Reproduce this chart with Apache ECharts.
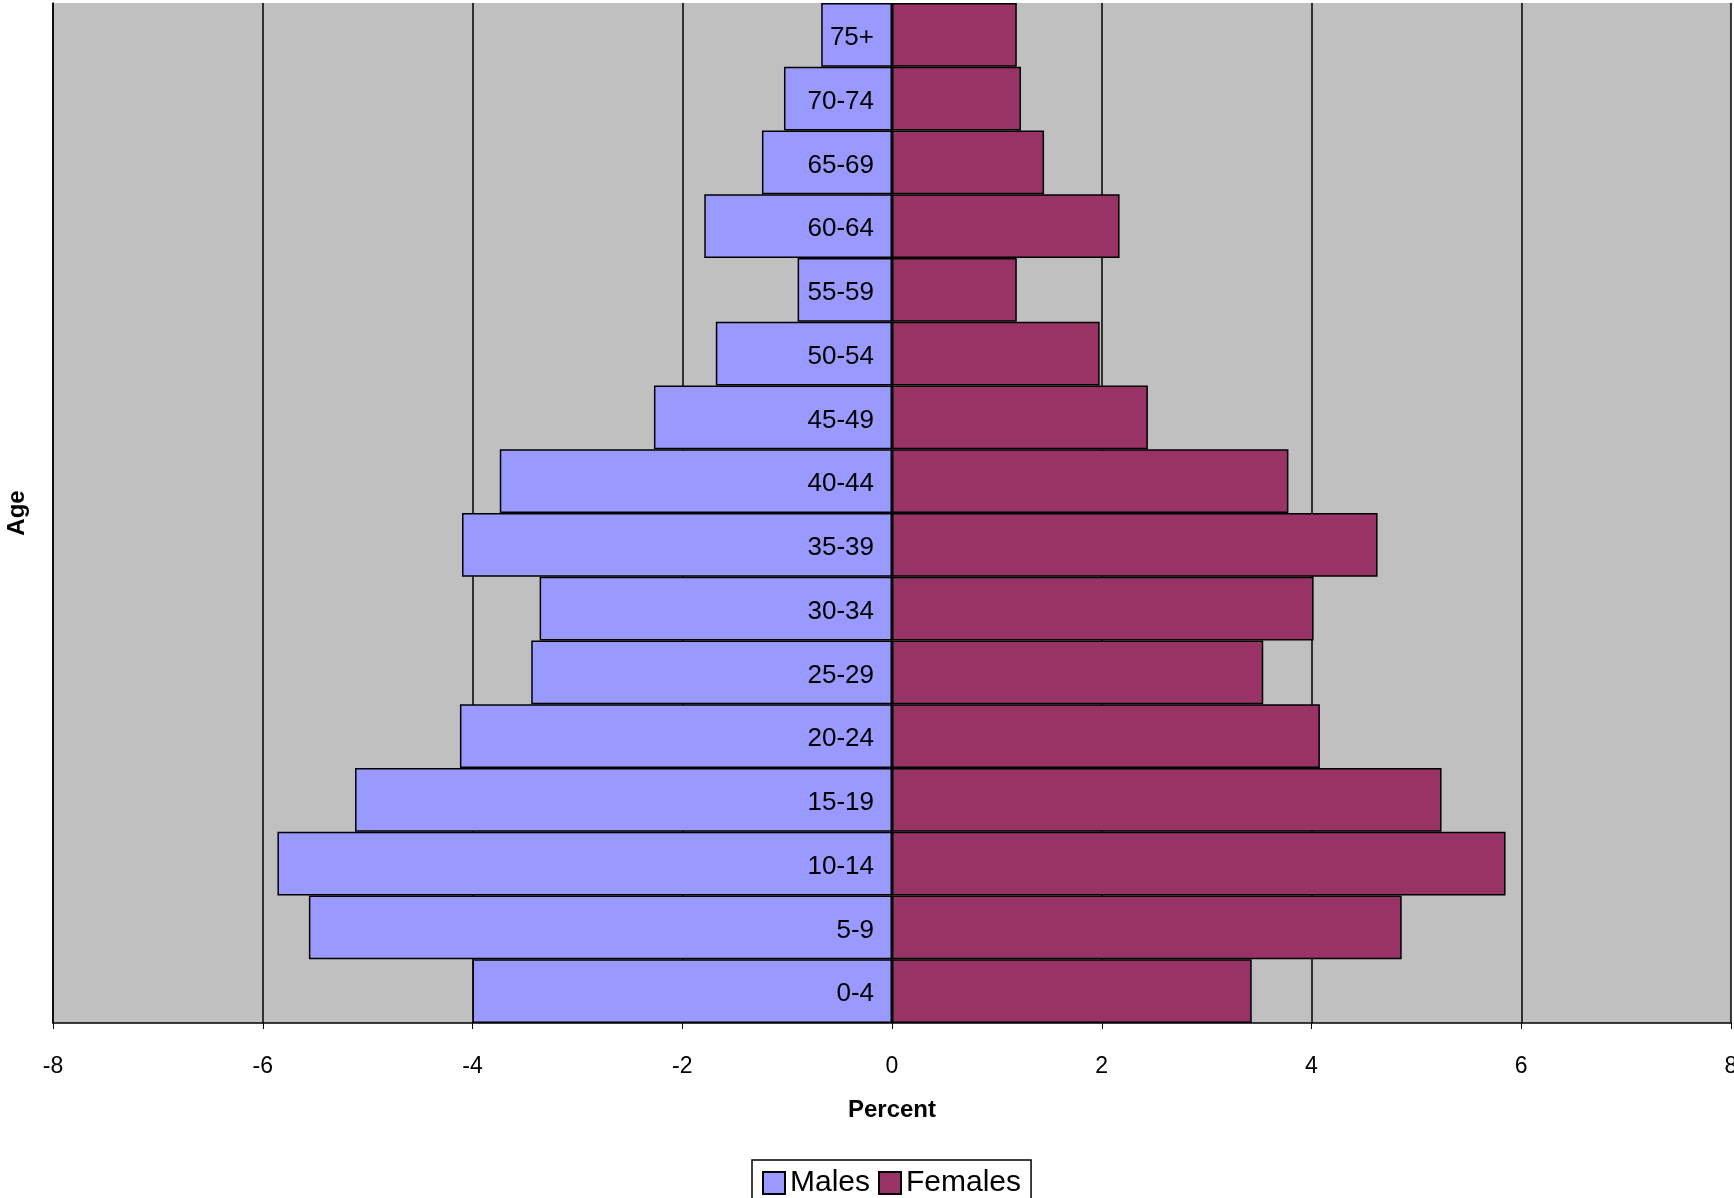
<!DOCTYPE html>
<html><head><meta charset="utf-8">
<script src="https://cdn.jsdelivr.net/npm/echarts@6/dist/echarts.min.js"></script>
<style>html,body{margin:0;padding:0;background:#fff;overflow:hidden}#c{width:1734px;height:1198px}</style>
</head><body><div id="c"></div>
<script>
const ages = ['0-4','5-9','10-14','15-19','20-24','25-29','30-34','35-39','40-44','45-49','50-54','55-59','60-64','65-69','70-74','75+'];
const males = [-4.0,-5.56,-5.86,-5.12,-4.12,-3.44,-3.36,-4.10,-3.74,-2.27,-1.68,-0.90,-1.79,-1.24,-1.03,-0.675];
const females = [3.43,4.86,5.85,5.24,4.08,3.54,4.02,4.63,3.78,2.44,1.98,1.19,2.17,1.45,1.23,1.19];
const xTicks = [-8,-6,-4,-2,0,2,4,6,8];

const chart = echarts.init(document.getElementById('c'));
chart.setOption({
  animation: false,
  textStyle: {fontFamily: 'Liberation Sans, Arial'},
  grid: {left: 53, right: 3, top: 3, bottom: 175, outerBoundsMode: 'none', containLabel: false,
    show: true, backgroundColor: '#C0C0C0', borderWidth: 0},
  legend: {
    bottom: -8, left: 752, itemWidth: 22, itemHeight: 22, itemGap: 8,
    borderColor: '#000', borderWidth: 1.5, padding: [8, 10],
    textStyle: {fontSize: 30, color: '#000'},
    icon: 'rect', data: ['Males', 'Females']
  },
  xAxis: {
    type: 'value', min: -8, max: 8, interval: 2,
    name: 'Percent', nameLocation: 'middle', nameGap: 75,
    nameTextStyle: {fontSize: 24, fontWeight: 'bold', color: '#000'},
    axisLine: {show: true, lineStyle: {color: '#000', width: 1.5}},
    axisTick: {show: true, length: 6, lineStyle: {color: '#000'}},
    axisLabel: {fontSize: 23, color: '#000', margin: 32, formatter: v => xTicks.includes(v) ? String(v) : ''},
    splitLine: {show: true, lineStyle: {color: '#000', width: 1.5}}
  },
  yAxis: {
    type: 'category', data: ages,
    name: 'Age', nameLocation: 'middle', nameGap: 24, nameRotate: 90,
    nameTextStyle: {fontSize: 24, fontWeight: 'bold', color: '#000'},
    axisLine: {onZero: false, show: true, lineStyle: {color: '#000', width: 1.5}},
    axisTick: {show: false}, axisLabel: {show: false}, splitLine: {show: false}
  },
  series: [
    {
      name: 'Males', type: 'bar', stack: 'p', data: males, barCategoryGap: 0,
      itemStyle: {color: '#9999FF', borderColor: '#000', borderWidth: 1.5},
      label: {show: true, position: 'insideRight', formatter: '{b}', color: '#000', fontSize: 26, distance: 18, offset: [0, 3]}
    },
    {
      name: 'Females', type: 'bar', stack: 'p', data: females, barCategoryGap: 0,
      itemStyle: {color: '#993366', borderColor: '#000', borderWidth: 1.5}
    }
  ]
});
</script></body></html>
